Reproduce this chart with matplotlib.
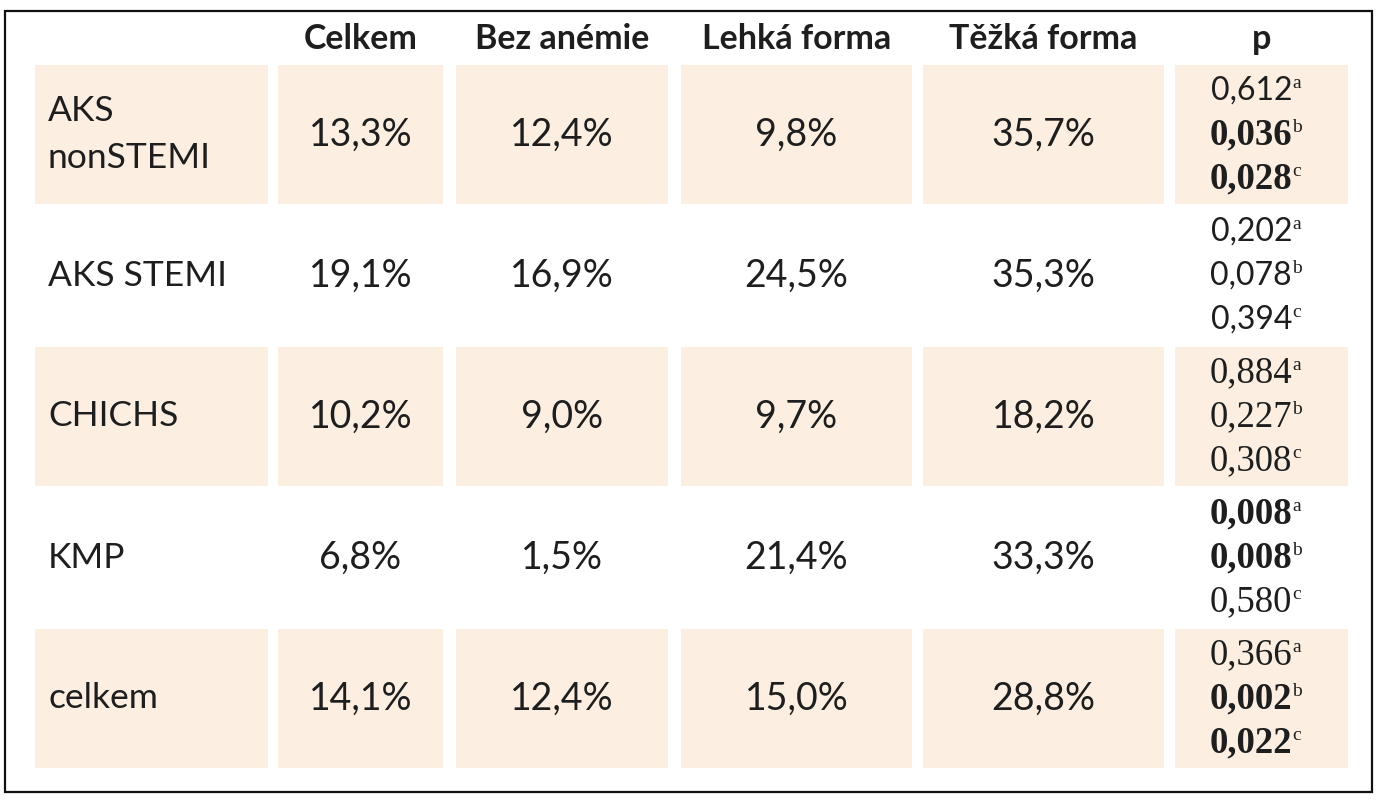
import matplotlib.pyplot as plt
from matplotlib.patches import Rectangle

rows = ['AKS\nnonSTEMI', 'AKS STEMI', 'CHICHS', 'KMP', 'celkem']
columns = ['Celkem', 'Bez anémie', 'Lehká forma', 'Těžká forma', 'p']

celkem = [13.3, 19.1, 10.2, 6.8, 14.1]
bez_anemie = [12.4, 16.9, 9.0, 1.5, 12.4]
lehka = [9.8, 24.5, 9.7, 21.4, 15.0]
tezka = [35.7, 35.3, 18.2, 33.3, 28.8]

p_a = [0.612, 0.202, 0.884, 0.008, 0.366]
p_b = [0.036, 0.078, 0.227, 0.008, 0.002]
p_c = [0.028, 0.394, 0.308, 0.580, 0.022]
p_marks = ['a', 'b', 'c']

# layout (pixels)
col_edges = [(35, 268), (278, 443), (456, 668), (681, 912), (923, 1164), (1175, 1348)]
row_top = 65
row_step = 141
row_h = 139
fill = '#fcefe2'
txt = '#1e1e1e'
sans = ['Lato', 'DejaVu Sans']
serif = ['Liberation Serif', 'DejaVu Serif']


def fmt(v):
    return ('%.1f' % v).replace('.', ',') + '%'


def pfmt(v):
    return ('%.3f' % v).replace('.', ',')


fig = plt.figure(figsize=(13.78, 8), dpi=100)
ax = fig.add_axes([0, 0, 1, 1])
ax.set_xlim(0, 1378)
ax.set_ylim(800, 0)
ax.axis('off')

ax.add_patch(Rectangle((5, 11), 1367, 781, fill=False, ec='#111111', lw=1.6))

# header
for (x0, x1), name in zip(col_edges[1:], columns):
    ax.text((x0 + x1) / 2, 39, name, ha='center', va='center', fontsize=24.5,
            fontweight='bold', family=sans, color=txt)

values = [celkem, bez_anemie, lehka, tezka]
for i, label in enumerate(rows):
    top = row_top + i * row_step
    yc = top + row_h / 2
    if i % 2 == 0:
        for x0, x1 in col_edges:
            ax.add_patch(Rectangle((x0, top), x1 - x0, row_h, color=fill, lw=0))
    ax.text(48, yc, label, ha='left', va='center', fontsize=25.5, family=sans,
            color=txt, linespacing=1.6)
    for j, vals in enumerate(values):
        x0, x1 = col_edges[j + 1]
        ax.text((x0 + x1) / 2, yc, fmt(vals[i]), ha='center', va='center',
                fontsize=27, family=sans, color=txt)
    for k, (pv, mark) in enumerate(zip([p_a[i], p_b[i], p_c[i]], p_marks)):
        bold = pv < 0.05
        fam = sans if (i < 2 and not bold) else serif
        y = yc + (k - 1) * 44
        ax.text(1292, y, pfmt(pv), ha='right', va='center',
                fontsize=(23 if fam is sans else 26.5), family=fam,
                fontweight='bold' if bold else 'normal', color=txt)
        ax.text(1292, y - 7, mark, ha='left', va='center', fontsize=14,
                family=serif, color=txt)

fig.savefig('out.png', dpi=100)
